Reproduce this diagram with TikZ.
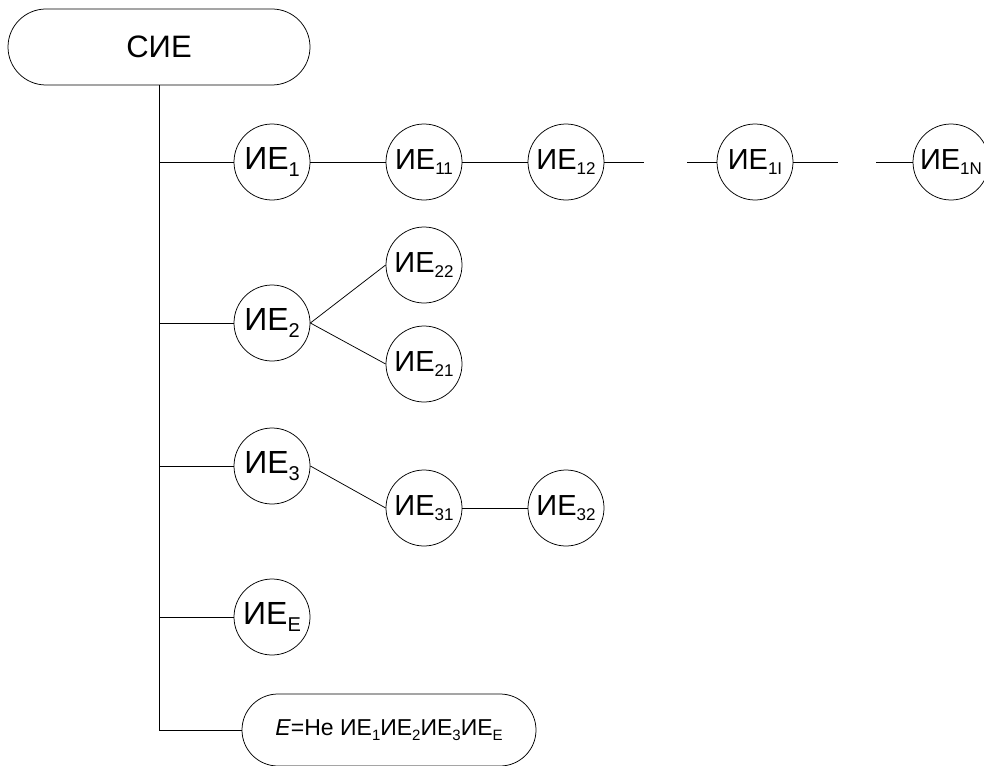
\documentclass[tikz,border=0pt]{standalone}
\usepackage{fontspec}
\setmainfont{Liberation Sans}
\usetikzlibrary{shapes.misc}
\newcommand{\lowr}[2][20]{\raisebox{-0.22em}{\fontsize{#1}{#1}\selectfont #2}}
\newcommand{\lowrs}[1]{\raisebox{-0.15em}{\fontsize{17}{17}\selectfont #1}}
\begin{document}
\begin{tikzpicture}[x=1pt,y=-1pt,
  every path/.style={line width=0.75pt},
  stad/.style={draw, rounded rectangle, inner sep=0pt},
  ie/.style={draw, circle, minimum size=76pt, inner sep=0pt, font=\fontsize{32}{34}\selectfont},
  ies/.style={draw, circle, minimum size=76pt, inner sep=0pt, font=\fontsize{29}{31}\selectfont}]
\useasboundingbox (0,0) rectangle (984,765);
\node[stad, minimum width=302pt, minimum height=76pt, font=\fontsize{31}{33}\selectfont] (sie) at (159,47) {СИЕ};
\node[ie] (c1) at (272,162) {ИЕ\lowr{1}};
\node[ies] (c11) at (424,162) {ИЕ\lowrs{11}};
\node[ies] (c12) at (566,162) {ИЕ\lowrs{12}};
\node[ies] (c1i) at (755,162) {ИЕ\lowrs{1I}};
\node[ies] (c1n) at (951,162) {ИЕ\lowrs{1N}};
\node[ie] (c2) at (272,323) {ИЕ\lowr{2}};
\node[ies] (c22) at (424,265) {ИЕ\lowrs{22}};
\node[ies] (c21) at (424,364) {ИЕ\lowrs{21}};
\node[ie] (c3) at (272,466) {ИЕ\lowr{3}};
\node[ies] (c31) at (424,508) {ИЕ\lowrs{31}};
\node[ies] (c32) at (566,508) {ИЕ\lowrs{32}};
\node[ie] (cE) at (272,617) {ИЕ\lowr{E}};
\node[stad, minimum width=294pt, minimum height=72pt, font=\fontsize{23}{25}\selectfont] (bot) at (389,730)
  {\textit{E}=Не ИЕ\lowr[15]{1}ИЕ\lowr[15]{2}ИЕ\lowr[15]{3}ИЕ\lowr[15]{E}};
\coordinate (s1) at (644,162);
\coordinate (s2) at (687,162);
\coordinate (s3) at (838,162);
\coordinate (s4) at (876,162);
\draw (sie.south) |- (bot.west);
\draw (sie.south |- c1) -- (c1.west);
\draw (sie.south |- c2) -- (c2.west);
\draw (sie.south |- c3) -- (c3.west);
\draw (sie.south |- cE) -- (cE.west);
\draw (c1) -- (c11);
\draw (c11) -- (c12);
\draw (c12.east) -- (s1);
\draw (s2) -- (c1i.west);
\draw (c1i.east) -- (s3);
\draw (s4) -- (c1n.west);
\draw (c2.east) -- (c22.west);
\draw (c2.east) -- (c21.west);
\draw (c3.east) -- (c31.west);
\draw (c31) -- (c32);
\end{tikzpicture}
\end{document}
